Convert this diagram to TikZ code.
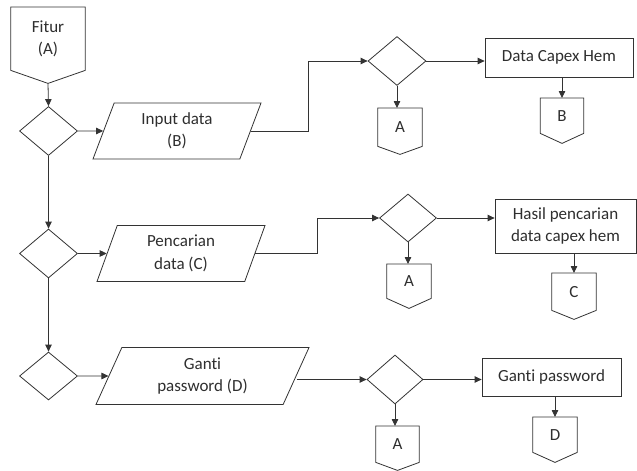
\documentclass[tikz,border=0pt]{standalone}
\usepackage{fontspec}
\setmainfont{Carlito}[Ligatures=NoCommon]
\usetikzlibrary{shapes.geometric,arrows.meta,calc}

% Off-page connector: a box with a pointed bottom.
% #1 name, #2 centre x, #3 top y, #4 width, #5 side height, #6 tip depth, #7 text
\newcommand\offpagenode[7]{%
  \node[txt, minimum width=#4pt, minimum height=#5pt, anchor=north] (#1) at (#2,#3) {#7};
  \draw[outline] (#1.north west) -- (#1.north east) -- (#1.south east)
    -- ($(#1.south)+(0,#6)$) -- (#1.south west) -- cycle;
}

\tikzset{
  outline/.style={draw=black!80, line width=0.8pt, line join=miter},
  txt/.style={font=\fontsize{17}{22.5}\selectfont, text=black!82, align=center, inner sep=0pt},
  decision/.style={outline, diamond, inner sep=0pt},
  io/.style={outline, txt, trapezium, trapezium stretches body,
    trapezium left angle=#1, trapezium right angle=180-#1},
  process/.style={outline, txt, rectangle},
  flow/.style={draw=black!80, line width=0.8pt, -{Triangle[length=7pt,width=6.5pt]}},
}

\begin{document}
\begin{tikzpicture}[x=1pt,y=-1pt]
\useasboundingbox (0,0) rectangle (637,471);

% main column
\offpagenode{fitur}{48}{7}{74}{63}{13}{Fitur\\(A)}
\node[decision, minimum width=58pt, minimum height=49pt] (d1) at (48.5,131) {};
\node[decision, minimum width=58pt, minimum height=49pt] (d3) at (48.5,253.5) {};
\node[decision, minimum width=58pt, minimum height=48pt] (d5) at (48.5,376) {};

\draw[flow] (fitur.south) ++(0,13) coordinate (ftip) -- (d1.north);
\draw[flow] (d1.south) -- (d3.north);
\draw[flow] (d3.south) -- (d5.north);

% input / output boxes
\node[io=60, minimum width=168pt, minimum height=56pt] (p1) at (177,131) {Input data\\(B)};
\node[io=61, minimum width=168pt, minimum height=56pt] (p2) at (181,253.5) {Pencarian\\data (C)};
\node[io=55, minimum width=213pt, minimum height=57pt] (p3) at (202.5,376) {Ganti\\password (D)};

\draw[flow] (d1.east) -- (p1);
\draw[flow] (d3.east) -- (p2);
\draw[flow] (d5.east) -- (p3);

% row B
\node[decision, minimum width=58pt, minimum height=49pt] (d2) at (397,61) {};
\coordinate (k1) at (308,61);
\draw[flow] (p1) -| (k1) -- (d2.west);
\node[process, minimum width=148pt, minimum height=39pt] (r1) at (559,57.5) {Data Capex Hem};
\draw[flow] (d2.east) -- (d2.east -| r1.west);
\offpagenode{a1}{400}{108}{44}{38}{8}{A}
\draw[flow] (d2.south) -- (d2.south |- a1.north);
\offpagenode{b1}{562}{98}{43}{35}{10}{B}
\draw[flow] (b1.north |- r1.south) -- (b1.north);

% row C
\node[decision, minimum width=57pt, minimum height=48pt] (d4) at (408,218) {};
\coordinate (k2) at (317,218);
\draw[flow] (p2) -| (k2) -- (d4.west);
\node[process, minimum width=141pt, minimum height=54pt] (r2) at (565.5,226) {Hasil pencarian\\data capex hem};
\draw[flow] (d4.east) -- (d4.east -| r2.west);
\offpagenode{a2}{409}{264}{44}{34}{10}{A}
\draw[flow] (d4.south) -- (d4.south |- a2.north);
\offpagenode{c1}{574}{273}{44}{37}{9}{C}
\draw[flow] (c1.north |- r2.south) -- (c1.north);

% row D
\node[decision, minimum width=56pt, minimum height=49pt] (d6) at (395,379.5) {};
\draw[flow] (p3.east |- d6.west) -- (d6.west);
\node[process, minimum width=139pt, minimum height=38pt] (r3) at (551.5,377) {Ganti password};
\draw[flow] (d6.east) -- (d6.east -| r3.west);
\offpagenode{a3}{397.5}{426}{43}{36}{8}{A}
\draw[flow] (d6.south) -- (d6.south |- a3.north);
\offpagenode{dd}{555}{417}{44}{35}{10}{D}
\draw[flow] (dd.north |- r3.south) -- (dd.north);
\end{tikzpicture}
\end{document}
